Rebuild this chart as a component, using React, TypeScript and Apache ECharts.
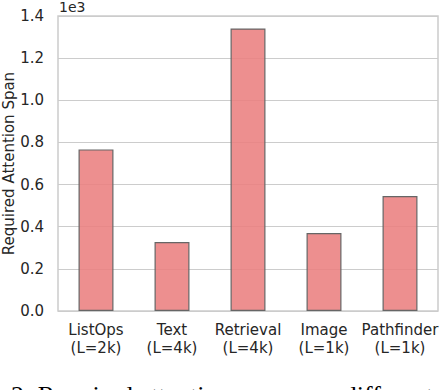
import React, { useEffect, useRef } from "react";
import * as echarts from "echarts";

const categories = ["ListOps", "Text", "Retrieval", "Image", "Pathfinder"];
const lengths = ["(L=2k)", "(L=4k)", "(L=4k)", "(L=1k)", "(L=1k)"];
const spans = [767, 327, 1341, 370, 546];
const yTicks = [0, 200, 400, 600, 800, 1000, 1200, 1400];

export default function App() {
  const ref = useRef<HTMLDivElement>(null);
  useEffect(() => {
    const chart = echarts.init(ref.current!, null, { renderer: "svg" });
    const font = "DejaVu Sans";
    chart.setOption({
      animation: false,
      backgroundColor: "#ffffff",
      textStyle: { fontFamily: font },
      grid: {
        left: 58,
        right: 2,
        top: 16,
        bottom: 79,
        show: true,
        borderColor: "#cccccc",
        borderWidth: 1.5,
        outerBoundsMode: "none",
        containLabel: false,
      },
      xAxis: {
        type: "category",
        data: categories.map((c, i) => c + "\n" + lengths[i]),
        axisLine: { show: false },
        axisTick: { show: false },
        axisLabel: {
          interval: 0,
          color: "#262626",
          fontSize: 15,
          lineHeight: 18,
          margin: 10,
          fontFamily: font,
        },
      },
      yAxis: {
        type: "value",
        min: yTicks[0],
        max: yTicks[yTicks.length - 1],
        interval: 200,
        name: "Required Attention Span",
        nameLocation: "middle",
        nameGap: 42,
        nameMoveOverlap: false,
        nameTextStyle: { color: "#262626", fontSize: 15, fontFamily: font },
        axisLine: { show: false },
        axisTick: { show: false },
        axisLabel: {
          color: "#262626",
          fontSize: 15,
          margin: 14,
          fontFamily: font,
          formatter: (v: number) => (v / 1000).toFixed(1),
        },
        splitLine: { show: true, lineStyle: { color: "#cccccc", width: 1 } },
      },
      graphic: [
        {
          type: "text",
          left: 59,
          top: 0,
          style: { text: "1e3", fontSize: 14, fill: "#262626", fontFamily: font },
        },
        {
          type: "text",
          left: 11,
          top: 382,
          style: {
            text: "2: Required attention span over different tasks.",
            fontSize: 26,
            fill: "#000000",
            fontFamily: "Liberation Serif",
          },
        },
      ],
      series: [
        {
          type: "bar",
          data: spans,
          barWidth: "46%",
          itemStyle: {
            color: "rgba(234, 128, 128, 0.88)",
            borderColor: "#666666",
            borderWidth: 1.2,
          },
        },
      ],
    });
    return () => chart.dispose();
  }, []);
  return (
    <div
      ref={ref}
      style={{ position: "fixed", left: 0, top: 0, width: 440, height: 390, overflow: "hidden" }}
    />
  );
}
